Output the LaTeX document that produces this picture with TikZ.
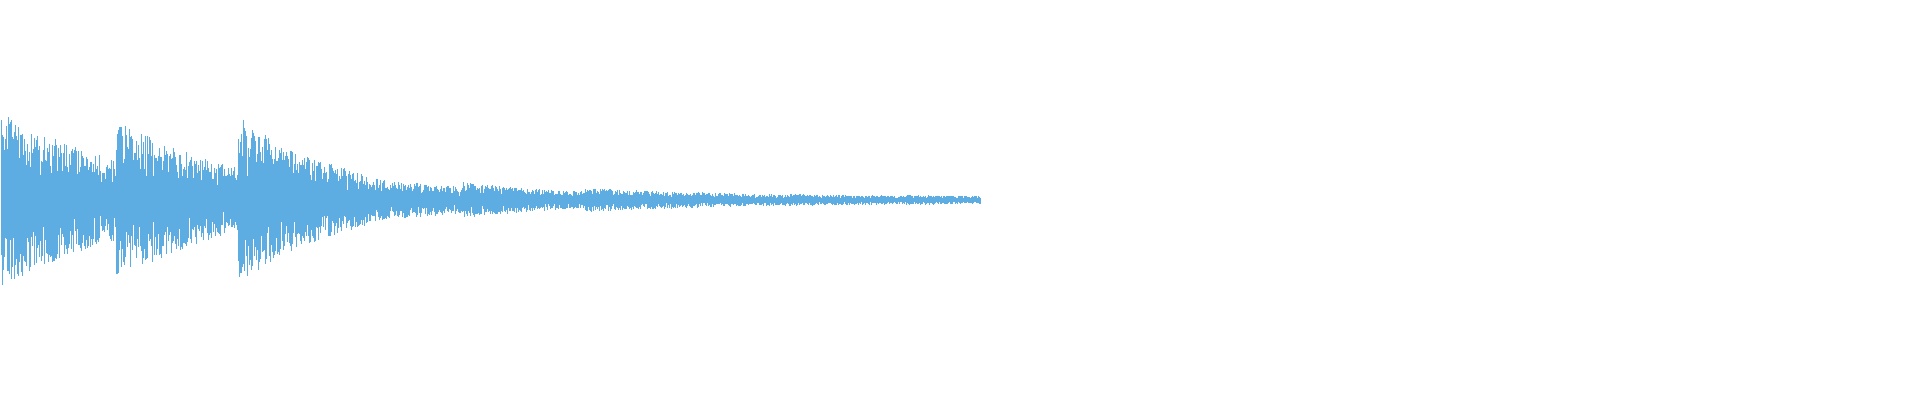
\documentclass[tikz,border=0pt]{standalone}
\usepackage{tikz}
\definecolor{wave}{RGB}{93,172,226}
\tikzset{wavestroke/.style={draw=wave, line width=0.09pt}}
\begin{document}
\begin{tikzpicture}[x=0.1mm, y=0.1mm]
\useasboundingbox (0,0) rectangle (1920,400);
\pgfmathsetseed{7}
% segments: start/end/amplitude/decay
\foreach \s/\e/\a/\t in {1/116/88/150, 116/238/82/130, 238/367/84/110, 367/463/22/200, 463/585/18/160, 585/784/12/260, 784/906/6/400, 906/980/5/400}{
  \foreach \x in {\s,\the\numexpr\s+0\relax.5,...,\e}{
    \pgfmathsetmacro{\env}{\a*exp(-(\x-\s)/\t)}
    \pgfmathsetmacro{\up}{\env*(0.3+0.7*rnd)}
    \pgfmathsetmacro{\dn}{\env*(0.3+0.7*rnd)}
    \draw[wavestroke] (\x,200+\up) -- (\x,200-\dn);
  }
}
\end{tikzpicture}
\end{document}
